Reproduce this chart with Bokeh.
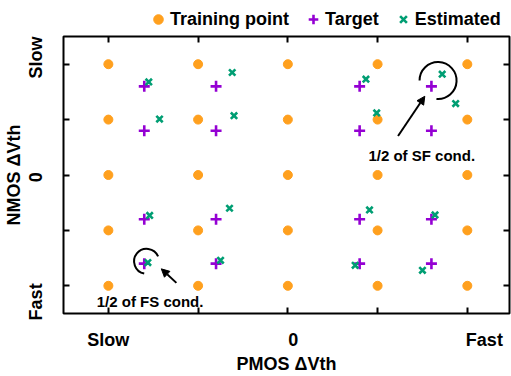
from math import radians
from bokeh.plotting import figure
from bokeh.layouts import column
from bokeh.models import (Range1d, LinearAxis, FixedTicker, Label, Arrow,
                          NormalHead, Legend, LegendItem, ColumnDataSource)
from bokeh.embed import file_html
from bokeh.resources import INLINE

# ---------------- data ----------------
tick_values = [-2, -1, 0, 1, 2]
x_tick_labels = ["Slow", "0", "Fast"]
y_tick_labels = ["Slow", "0", "Fast"]

train_x = [-2, -1, 0, 1, 2,
           -2, -1, 0, 1, 2,
           -2, -1, 0, 1, 2,
           -2, -1, 0, 1, 2,
           -2, -1, 0, 1, 2]
train_y = [2, 2, 2, 2, 2,
           1, 1, 1, 1, 1,
           0, 0, 0, 0, 0,
           -1, -1, -1, -1, -1,
           -2, -2, -2, -2, -2]

target_x = [-1.6, -0.8, 0.8, 1.6,
            -1.6, -0.8, 0.8, 1.6,
            -1.6, -0.8, 0.8, 1.6,
            -1.6, -0.8, 0.8, 1.6]
target_y = [1.6, 1.6, 1.6, 1.6,
            0.8, 0.8, 0.8, 0.8,
            -0.8, -0.8, -0.8, -0.8,
            -1.6, -1.6, -1.6, -1.6]

est_x = [-1.55, -0.62, 0.87, 1.72,
         -1.43, -0.60, 0.99, 1.87,
         -1.54, -0.65, 0.91, 1.64,
         -1.56, -0.75, 0.75, 1.50]
est_y = [1.68, 1.85, 1.73, 1.82,
         1.01, 1.07, 1.12, 1.29,
         -0.73, -0.60, -0.63, -0.72,
         -1.58, -1.54, -1.63, -1.72]

# ---------------- style ----------------
FONT = "Liberation Sans"
ORANGE = "#FFA01E"
PURPLE = "#9400D3"
GREEN = "#009E73"

# where the tick texts sit along each axis (as in the original, slightly shifted)
x_label_pos = [-2.0, 0.06, 2.19]
y_label_pos = [2.12, -0.04, -2.29]

src_train = ColumnDataSource(dict(x=train_x, y=train_y))
src_target = ColumnDataSource(dict(x=target_x, y=target_y))
src_est = ColumnDataSource(dict(x=est_x, y=est_y))

LEG_H = 32
p = figure(width=511, height=376 - LEG_H, output_backend="svg", toolbar_location=None,
           x_range=Range1d(-2.5, 2.47), y_range=Range1d(-2.5, 2.5),
           x_axis_location=None, y_axis_location=None,
           min_border_left=63, min_border_right=2,
           min_border_top=36 - LEG_H, min_border_bottom=58)
p.grid.visible = False
p.outline_line_color = "black"
p.outline_line_width = 2
p.background_fill_color = "white"
p.border_fill_color = "white"


def style_axis(ax):
    ax.major_tick_in = 0
    ax.major_tick_out = 0
    ax.major_tick_line_color = None
    ax.minor_tick_in = 6
    ax.minor_tick_out = 0
    ax.minor_tick_line_width = 2
    ax.minor_tick_line_color = "black"
    ax.axis_line_color = None
    ax.major_label_text_font = FONT
    ax.major_label_text_font_style = "bold"
    ax.major_label_text_font_size = "18px"
    ax.major_label_text_color = "black"
    ax.axis_label_text_font = FONT
    ax.axis_label_text_font_style = "bold"
    ax.axis_label_text_font_size = "18px"
    ax.axis_label_text_color = "black"


xb = LinearAxis(ticker=FixedTicker(ticks=x_label_pos, minor_ticks=tick_values),
                major_label_overrides=dict(zip(x_label_pos, x_tick_labels)),
                axis_label="PMOS ΔVth")
style_axis(xb)
xb.major_label_standoff = 16
xb.axis_label_standoff = 1
p.add_layout(xb, "below")

yl = LinearAxis(ticker=FixedTicker(ticks=y_label_pos, minor_ticks=tick_values),
                major_label_overrides=dict(zip(y_label_pos, y_tick_labels)),
                axis_label="NMOS ΔVth")
style_axis(yl)
yl.major_label_orientation = "vertical"
yl.major_label_standoff = 17
yl.axis_label_standoff = 0
p.add_layout(yl, "left")

# mirrored tick marks (no labels) on the top and right edges
for side in ["above", "right"]:
    ax = LinearAxis(ticker=FixedTicker(ticks=tick_values),
                    major_label_overrides={v: "" for v in tick_values})
    style_axis(ax)
    ax.major_tick_in = 6
    ax.major_tick_line_width = 2
    ax.major_tick_line_color = "black"
    ax.minor_tick_line_color = None
    ax.major_label_text_font_size = "1px"
    ax.major_label_standoff = 0
    p.add_layout(ax, side)

TRAIN_STYLE = dict(marker="circle", size=9, fill_color=ORANGE, line_color=ORANGE)
TARGET_STYLE = dict(marker="cross", size=11, line_color=PURPLE, line_width=2.6)
EST_STYLE = dict(marker="x", size=9, line_color=GREEN, line_width=2.6)

p.scatter("x", "y", source=src_train, **TRAIN_STYLE)
p.scatter("x", "y", source=src_target, **TARGET_STYLE)
p.scatter("x", "y", source=src_est, **EST_STYLE)

# annotations
p.arc(x=[-1.574], y=[-1.558], radius=12.5, radius_units="screen",
      start_angle=radians(23), end_angle=radians(259), direction="anticlock",
      line_color="black", line_width=2)
p.arc(x=[1.674], y=[1.704], radius=18.5, radius_units="screen",
      start_angle=radians(-95), end_angle=radians(180), direction="anticlock",
      line_color="black", line_width=2)
p.add_layout(Arrow(x_start=-1.242, y_start=-1.947, x_end=-1.41, y_end=-1.694,
                   line_width=2, line_color="black",
                   end=NormalHead(size=8, fill_color="black", line_color="black")))
p.add_layout(Arrow(x_start=1.228, y_start=0.703, x_end=1.526, y_end=1.421,
                   line_width=2, line_color="black",
                   end=NormalHead(size=8, fill_color="black", line_color="black")))
p.add_layout(Label(x=-1.535, y=-2.288, text="1/2 of FS cond.",
                   text_align="center", text_baseline="middle", text_color="black",
                   text_font=FONT, text_font_style="bold", text_font_size="15px"))
p.add_layout(Label(x=1.492, y=0.359, text="1/2 of SF cond.",
                   text_align="center", text_baseline="middle", text_color="black",
                   text_font=FONT, text_font_style="bold", text_font_size="15px"))

# ---------------- legend strip above the plot ----------------
# (same series, ranges chosen so only the legend itself is visible)
lg = figure(width=511, height=LEG_H, output_backend="svg", toolbar_location=None,
            x_range=Range1d(10, 11), y_range=Range1d(10, 11),
            x_axis_location=None, y_axis_location=None, min_border=0)
lg.grid.visible = False
lg.outline_line_color = None
lg.background_fill_color = "white"
lg.border_fill_color = "white"
k_train = lg.scatter("x", "y", source=src_train, **TRAIN_STYLE)
k_target = lg.scatter("x", "y", source=src_target, **TARGET_STYLE)
k_est = lg.scatter("x", "y", source=src_est, **EST_STYLE)
legend = Legend(items=[LegendItem(label="Training point", renderers=[k_train]),
                       LegendItem(label="Target", renderers=[k_target]),
                       LegendItem(label="Estimated", renderers=[k_est])],
                orientation="horizontal", location=(83, 1),
                padding=0, margin=0, spacing=12,
                glyph_width=24, glyph_height=24, label_standoff=0,
                label_text_font=FONT, label_text_font_style="bold",
                label_text_font_size="18px", label_text_color="black",
                border_line_color=None, background_fill_alpha=0)
lg.add_layout(legend)

layout = column(lg, p, spacing=0)
open("out.html", "w").write(file_html(layout, INLINE))
